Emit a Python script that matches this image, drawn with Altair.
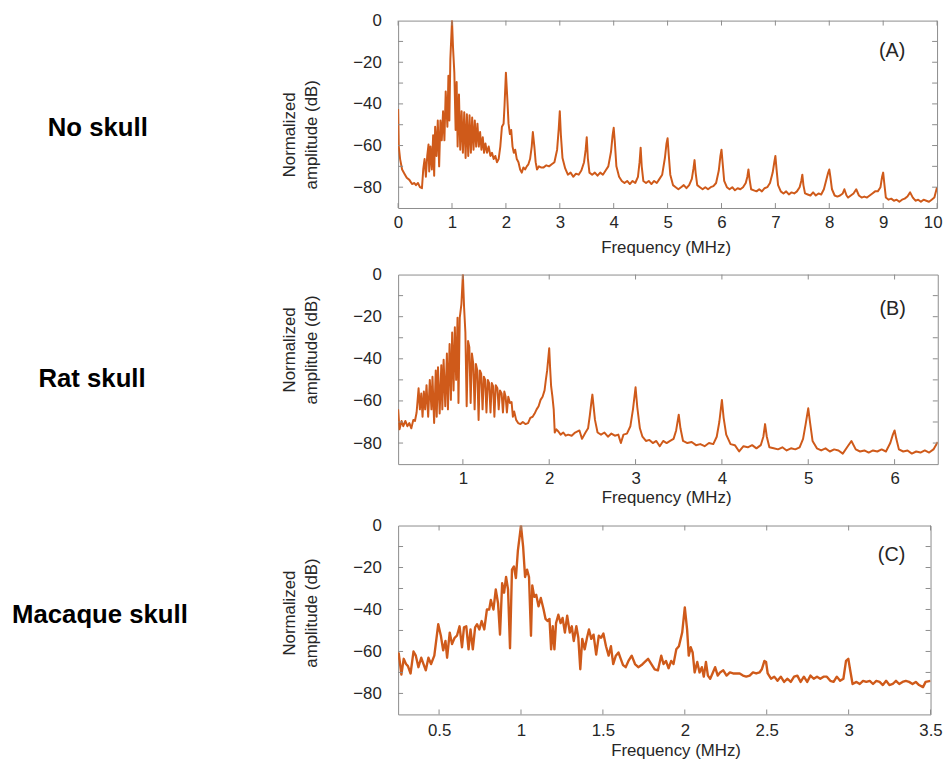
import altair as alt
import pandas as pd

# ---------------- data ----------------
A_freq = [0.0, 0.012, 0.037, 0.074, 0.117, 0.16, 0.209, 0.258, 0.301, 0.331, 0.368, 0.405, 0.442,
          0.466, 0.491, 0.515, 0.54, 0.564, 0.577, 0.601, 0.626, 0.65, 0.669, 0.687, 0.712, 0.736,
          0.761, 0.785, 0.81, 0.834, 0.859, 0.883, 0.914, 0.933, 0.951, 0.969, 1.0, 1.018, 1.043,
          1.067, 1.086, 1.104, 1.129, 1.153, 1.178, 1.202, 1.227, 1.252, 1.276, 1.301, 1.325, 1.35,
          1.374, 1.399, 1.423, 1.448, 1.472, 1.497, 1.521, 1.546, 1.571, 1.595, 1.62, 1.65, 1.681,
          1.712, 1.742, 1.773, 1.804, 1.834, 1.865, 1.896, 1.926, 1.957, 1.975, 2.0, 2.025, 2.049,
          2.074, 2.098, 2.123, 2.147, 2.172, 2.202, 2.233, 2.264, 2.294, 2.325, 2.356, 2.387, 2.417,
          2.448, 2.479, 2.5, 2.528, 2.552, 2.577, 2.613, 2.65,
          2.7, 2.75, 2.8, 2.85, 2.9, 2.95, 2.98, 3.0, 3.02, 3.05, 3.1, 3.15, 3.2, 3.25, 3.3, 3.35,
          3.4, 3.45, 3.48, 3.5, 3.52, 3.55, 3.6, 3.65, 3.7, 3.75, 3.8, 3.85, 3.9, 3.95, 3.98, 4.0,
          4.02, 4.05, 4.1, 4.15, 4.2, 4.25, 4.3, 4.35, 4.4, 4.45, 4.48, 4.5, 4.52, 4.55, 4.6, 4.65,
          4.7, 4.75, 4.8, 4.85, 4.9, 4.95, 4.98, 5.0, 5.02, 5.05, 5.1, 5.15, 5.2, 5.25, 5.3, 5.35,
          5.4, 5.45, 5.48, 5.5, 5.52, 5.55, 5.6, 5.65, 5.7, 5.75, 5.8, 5.85, 5.9, 5.95, 5.98, 6.0,
          6.02, 6.05, 6.1, 6.15, 6.2, 6.25, 6.3, 6.35, 6.4, 6.45, 6.48, 6.5, 6.52, 6.55, 6.6, 6.65,
          6.7, 6.75, 6.8, 6.85, 6.9, 6.95, 6.98, 7.0, 7.02, 7.05, 7.1, 7.15, 7.2, 7.25, 7.3, 7.35,
          7.4, 7.45, 7.48, 7.5, 7.52, 7.55, 7.6, 7.65, 7.7, 7.75, 7.8, 7.85, 7.9, 7.95, 7.98, 8.0,
          8.02, 8.05, 8.1, 8.15, 8.2, 8.25, 8.28, 8.32, 8.35, 8.4, 8.45, 8.5, 8.55, 8.6, 8.65, 8.7,
          8.75, 8.8, 8.85, 8.9, 8.95, 8.98, 9.0, 9.02, 9.05, 9.1, 9.15, 9.2, 9.25, 9.3, 9.35, 9.4,
          9.45, 9.5, 9.55, 9.6, 9.65, 9.7, 9.75, 9.8, 9.85, 9.9, 9.95, 9.98, 10.0]
A_amp = [-42.5, -60.5, -66.5, -71.5, -73.5, -75.5, -76.5, -78.5, -78, -79, -78, -80, -80.5,
         -71.5, -66.5, -75, -65, -59.5, -72.5, -60.5, -71.5, -55, -74.5, -51, -65, -48,
         -70, -48, -57.5, -43.5, -57.5, -34, -51, -26.5, -48, -18.5, 0, -12.5, -25,
         -52.5, -29.5, -60.5, -35.5, -62, -43.5, -63.5, -44, -66, -45, -65, -45.5, -63.5,
         -46.5, -62, -48, -60.5, -49.5, -60.5, -53.5, -62, -56, -63.5, -59, -63.5, -60.5,
         -65, -63.5, -66.5, -65, -68, -66.5, -60.5, -51, -49.5, -40.5, -25, -37, -49.5,
         -54.5, -52.5, -60.5, -63.5, -62, -66.5, -68, -71.5, -73, -70.5, -71.5, -70, -69,
         -66.5, -60.5, -53.5, -60.5, -68, -71.5, -70, -70.5,
         -70.5, -69.5, -70, -69, -68, -62, -52, -43.5, -55, -66, -71, -74, -73, -75, -73.5, -74,
         -72, -68, -62, -56, -66, -73, -74, -73, -74.5, -73, -74, -72, -70, -63, -55, -51.5,
         -58, -70, -75, -77, -78, -77, -78.5, -77, -78, -75, -68, -61, -70, -77, -78, -77,
         -78.5, -77, -78, -76, -74, -66, -59, -56.5, -64, -74, -79, -80, -81, -80, -79, -80.5,
         -79, -76, -71, -67, -73, -79, -80, -81, -80, -81, -80, -79.5, -78, -72, -65, -62,
         -68, -77, -80, -81, -80, -81.5, -80.5, -81, -80, -78, -75, -71.5, -76, -81, -81.5, -82,
         -81, -82, -80.5, -80, -78, -73, -68, -65, -71, -79, -82, -83, -82, -83.5, -82.5, -83,
         -82, -80, -77, -74, -79, -83, -83.5, -84, -82.5, -84, -83, -83.5, -81, -76, -73, -71.5,
         -75, -81, -84, -84.5, -84, -83, -81, -84, -85, -84, -83, -81, -84, -85, -84.5, -85,
         -84, -83, -82, -82, -80, -75, -73, -78, -85, -86, -85.5, -86.5, -86, -87, -86, -85.5,
         -84.5, -82.5, -85, -86.5, -86, -87, -86, -86.5, -87, -86, -85, -82, -80]

B_freq = [0.25, 0.266, 0.29, 0.31, 0.334, 0.357, 0.38, 0.403, 0.426, 0.445, 0.464, 0.487, 0.502,
          0.518, 0.533, 0.548, 0.563, 0.579, 0.598, 0.617, 0.636, 0.648, 0.667, 0.686, 0.697,
          0.712, 0.731, 0.75, 0.762, 0.777, 0.796, 0.815, 0.827, 0.846, 0.861, 0.876, 0.892,
          0.907, 0.922, 0.938, 0.949, 0.964, 0.983, 1.0, 1.014, 1.029, 1.044, 1.06, 1.075, 1.09,
          1.105, 1.121, 1.136, 1.151, 1.167, 1.182, 1.197, 1.212, 1.228, 1.243, 1.258, 1.273,
          1.289, 1.304, 1.32, 1.335, 1.35, 1.365, 1.381, 1.4, 1.415, 1.43, 1.449, 1.464, 1.48,
          1.495, 1.51, 1.526, 1.545, 1.564, 1.579, 1.594, 1.617, 1.64, 1.667, 1.694, 1.724, 1.755,
          1.781, 1.808, 1.831, 1.854, 1.877, 1.9, 1.923, 1.946, 1.961, 1.976, 1.991, 2.0, 2.01,
          2.022, 2.037, 2.052, 2.064, 2.083, 2.106, 2.132, 2.163, 2.19, 2.22, 2.26,
          2.3, 2.35, 2.38, 2.42, 2.45, 2.47, 2.49, 2.5, 2.51, 2.53, 2.56, 2.6, 2.64, 2.68, 2.72,
          2.76, 2.8, 2.83, 2.86, 2.9, 2.94, 2.97, 3.0, 3.02, 3.05, 3.08, 3.12, 3.16, 3.2, 3.24,
          3.28, 3.32, 3.36, 3.4, 3.44, 3.47, 3.5, 3.52, 3.55, 3.6, 3.65, 3.7, 3.75, 3.8, 3.85,
          3.9, 3.94, 3.97, 4.0, 4.02, 4.05, 4.1, 4.15, 4.2, 4.25, 4.3, 4.35, 4.4, 4.45, 4.48, 4.5,
          4.52, 4.55, 4.6, 4.65, 4.7, 4.75, 4.8, 4.85, 4.9, 4.94, 4.97, 5.0, 5.02, 5.05, 5.1,
          5.15, 5.2, 5.25, 5.3, 5.35, 5.4, 5.45, 5.5, 5.55, 5.6, 5.65, 5.7, 5.75, 5.8, 5.85, 5.9,
          5.95, 5.98, 6.0, 6.02, 6.05, 6.1, 6.15, 6.2, 6.25, 6.3, 6.35, 6.4, 6.45, 6.5]
B_amp = [-64, -73.5, -69.5, -72, -69.5, -72, -70.5, -73, -69, -69.5, -65.5, -54, -64,
         -56.5, -67.5, -55.5, -64, -52.5, -67.5, -50, -64, -48.5, -70.5, -45.5, -67.5,
         -44, -66, -43, -64, -40.5, -62.5, -37.5, -64, -33, -59.5, -27.5, -55,
         -25, -50, -20.5, -61, -20.5, -14, 0, -15.5, -27.5, -62.5, -31.5, -34.5, -61,
         -37.5, -42.5, -64, -42.5, -45.5, -69, -45.5, -47, -64, -48.5, -50, -65.5,
         -50, -51.5, -65.5, -51.5, -53, -67.5, -52.5, -54, -64, -55, -56.5, -65.5, -55.5,
         -58, -65.5, -58, -61, -60.5, -67.5, -65, -69, -70.5, -71, -70, -71, -70.5,
         -68, -67.5, -66, -64, -62.5, -59.5, -58, -55, -50, -45.5, -39, -35, -44,
         -53, -58, -64, -75, -73.5, -74.5, -76, -75, -76.5, -76, -76.5,
         -75, -74, -78, -75, -73, -67, -60, -57, -61, -69, -75, -76, -75, -77, -75.5,
         -76.5, -76, -80, -76, -75.5, -72, -64, -53.5, -63, -73, -77, -79, -78.5, -80, -79,
         -81.5, -79, -80, -79, -78, -74, -66.5, -73, -79, -80, -79.5, -81, -80.5, -81.5, -80,
         -80.5, -77, -70, -59.5, -68, -76, -80.5, -81, -84, -81.5, -82, -81, -82.5, -81, -77, -71,
         -77, -82, -82.5, -83, -82, -83.5, -82.5, -83, -82, -78, -71, -63.5, -70, -79, -82.5,
         -83.5, -82.5, -84, -83, -83.5, -85, -82, -79, -83, -84, -83.5, -84.5, -83.5, -84, -83, -84,
         -80, -76, -74, -78, -83, -84, -83.5, -85, -84, -84.5, -83.5, -84.5, -83, -79.5]

C_freq = [0.25, 0.254, 0.27, 0.284, 0.298, 0.31, 0.326, 0.344, 0.358, 0.374, 0.391, 0.405, 0.419,
          0.435, 0.451, 0.471, 0.495, 0.511, 0.525, 0.539, 0.549, 0.565, 0.579, 0.595, 0.609,
          0.625, 0.64, 0.652, 0.666, 0.68, 0.692, 0.706, 0.72, 0.732, 0.746, 0.76, 0.776, 0.792,
          0.806, 0.816, 0.832, 0.846, 0.86, 0.872, 0.885, 0.897, 0.909, 0.921, 0.933, 0.945,
          0.957, 0.969, 0.981, 1.0, 1.013, 1.025, 1.037, 1.049, 1.061, 1.069, 1.081, 1.093,
          1.107, 1.121, 1.138, 1.15, 1.162, 1.174, 1.184, 1.194, 1.204, 1.214, 1.228, 1.242,
          1.254, 1.268, 1.282, 1.298, 1.31, 1.322, 1.338, 1.35, 1.362, 1.374, 1.389, 1.403,
          1.415, 1.429, 1.443, 1.459, 1.475, 1.489, 1.503, 1.519, 1.535, 1.549, 1.563, 1.579,
          1.595, 1.609, 1.623, 1.639, 1.656, 1.676, 1.696, 1.716, 1.736, 1.756, 1.776, 1.796,
          1.816, 1.836, 1.856, 1.87, 1.885, 1.901, 1.917, 1.931, 1.948, 1.964, 1.984, 2.0,
          2.014, 2.024, 2.036, 2.048, 2.06, 2.076, 2.09, 2.104, 2.116, 2.129, 2.141, 2.155,
          2.169, 2.185, 2.201, 2.215, 2.235, 2.255, 2.275, 2.295, 2.315, 2.335, 2.355, 2.375,
          2.396, 2.416, 2.436, 2.456, 2.47, 2.486, 2.496, 2.506, 2.526, 2.546, 2.566, 2.586,
          2.606, 2.627, 2.647, 2.667, 2.687, 2.707, 2.727, 2.747, 2.767, 2.787, 2.807, 2.827,
          2.847, 2.867, 2.888, 2.908, 2.928, 2.948, 2.968, 2.984, 2.998, 3.012, 3.024, 3.048,
          3.068, 3.088, 3.108, 3.129, 3.149, 3.169, 3.189, 3.209, 3.229, 3.249, 3.269, 3.289,
          3.309, 3.329, 3.349, 3.369, 3.39, 3.41, 3.43, 3.454, 3.47, 3.5]
C_amp = [-64, -61, -71, -63.5, -66, -67, -70.5, -60, -62, -67.5, -63, -66, -69,
         -63, -66, -62, -47, -52.5, -59.5, -55, -63, -51, -56.5, -53.5, -52.5,
         -48, -58, -48.5, -48, -59, -49.5, -59, -48.5, -47, -49.5, -45.5, -49.5, -40,
         -40, -35.5, -40, -30.5, -37, -52, -27.5, -32, -24.5, -30.5, -58.5, -21,
         -19.5, -25, -12, 0, -10, -24.5, -21, -24.5, -52.5, -28.5, -34, -33,
         -38.5, -34.5, -40, -44.5, -45.5, -44.5, -59, -48, -59, -46.5, -42.5, -46.5,
         -44, -51, -43, -51, -48, -55, -48, -53.5, -68.5, -54, -59, -53.5,
         -49.5, -54, -52, -61.5, -52.5, -53.5, -51.5, -57.5, -62, -57.5, -66, -62,
         -60.5, -63.5, -66.5, -67.5, -64.5, -62, -66, -67.5, -66.5, -65, -63.5, -66,
         -68.5, -69, -62, -66, -64.5, -68, -64.5, -66, -59, -57.5, -51, -39,
         -49.5, -62, -58, -60.5, -70, -65, -70, -67.5, -72, -65, -71.5, -73,
         -70.5, -67.5, -71.5, -70, -69, -71.5, -70, -70.5, -70.5, -70.5, -71.5, -72,
         -71.5, -70, -70.5, -70, -68.5, -64.5, -65, -70.5, -73, -72, -74, -72,
         -74.5, -73, -74.5, -72, -71.5, -74.5, -72, -74.5, -71.5, -73, -72, -73,
         -72, -72, -74, -74.5, -72, -74, -73, -64.5, -63.5, -70, -75.5, -74.5,
         -75.5, -74, -74.5, -74, -75.5, -74, -74.5, -76, -74, -76, -75.5, -74,
         -75.5, -74.5, -74, -74.5, -75.5, -74.5, -76, -77, -74.5, -74]

A_xticks = [0, 1, 2, 3, 4, 5, 6, 7, 8, 9, 10]
B_xticks = [1, 2, 3, 4, 5, 6]
C_xticks = [0.5, 1, 1.5, 2, 2.5, 3, 3.5]
Y_LABELS = [-80, -60, -40, -20, 0]
Y_TICKS = [-80, -70, -60, -50, -40, -30, -20, -10]
Y_TITLE = ["Normalized", "amplitude (dB)"]
X_TITLE = "Frequency (MHz)"

# ---------------- style ----------------
LINE = "#CF5A1A"
FRAME = "#8C8C8C"
TXT = "#262626"
FONT = "Liberation Sans"
NAME_SIZE = 26
GHOST_X = -301.5


def panel(freq, amp, xdom, xvals, width, height, name, name_x, name_y, tag, tag_x, tag_y,
          label_pad, title_pad, title_x, ytitle_y, sw, flush, flush_off):
    df = pd.DataFrame({"f": freq, "a": amp})
    xs = alt.Scale(domain=xdom, nice=False, zero=False)
    ys = alt.Scale(domain=[-90, 0], nice=False, zero=False)
    x_axis = alt.Axis(values=xvals, format="~r", title=X_TITLE, labelPadding=label_pad,
                      titlePadding=title_pad, titleX=title_x, ticks=False, domain=False,
                      grid=False, labelFlush=flush, labelFlushOffset=flush_off)
    y_axis = alt.Axis(values=Y_LABELS, title=Y_TITLE, titleX=-110, titleY=ytitle_y,
                      titleAngle=270, titleAlign="center", titleBaseline="middle",
                      titleLineHeight=22.5, labelPadding=17, ticks=False, domain=False,
                      grid=False)

    line = alt.Chart(df).mark_line(color=LINE, strokeWidth=sw, clip=True,
                                   strokeJoin="round").encode(
        x=alt.X("f:Q", scale=xs, axis=x_axis),
        y=alt.Y("a:Q", scale=ys, axis=y_axis),
    )
    xt = pd.DataFrame({"f": xvals})
    yt = pd.DataFrame({"a": Y_TICKS})
    top_t = alt.Chart(xt).mark_rule(color=FRAME, strokeWidth=1).encode(
        x=alt.X("f:Q", scale=xs, axis=x_axis), y=alt.value(0), y2=alt.value(5))
    bot_t = alt.Chart(xt).mark_rule(color=FRAME, strokeWidth=1).encode(
        x=alt.X("f:Q", scale=xs, axis=x_axis), y=alt.value(height - 5), y2=alt.value(height))
    left_t = alt.Chart(yt).mark_rule(color=FRAME, strokeWidth=1).encode(
        y=alt.Y("a:Q", scale=ys, axis=y_axis), x=alt.value(0), x2=alt.value(5))
    right_t = alt.Chart(yt).mark_rule(color=FRAME, strokeWidth=1).encode(
        y=alt.Y("a:Q", scale=ys, axis=y_axis), x=alt.value(width - 5), x2=alt.value(width))

    name_txt = alt.Chart(pd.DataFrame({"t": [name]})).mark_text(
        font=FONT, fontWeight="bold", fontSize=NAME_SIZE, color="black", align="center",
        baseline="middle").encode(text="t:N", x=alt.value(name_x), y=alt.value(name_y))
    ghost = alt.Chart(pd.DataFrame({"t": ["Macaque skull"]})).mark_text(
        font=FONT, fontWeight="bold", fontSize=NAME_SIZE, opacity=0, align="center",
        baseline="middle").encode(text="t:N", x=alt.value(GHOST_X), y=alt.value(height / 2))
    tag_txt = alt.Chart(pd.DataFrame({"t": [tag]})).mark_text(
        font=FONT, fontSize=20, color=TXT, align="center", baseline="middle").encode(
        text="t:N", x=alt.value(tag_x), y=alt.value(tag_y))

    return alt.layer(line, top_t, bot_t, left_t, right_t, ghost, name_txt, tag_txt).properties(
        width=width, height=height)


A_TOP = 17.5
pA = panel(A_freq, A_amp, [0, 10], A_xticks, 545, 189.5, "No skull", 96.3 - 400, 125.7 - A_TOP,
           "(A)", 499.5, 48.3 - A_TOP, 6.5, 9.5, 270.5, 132.5 - A_TOP, 2.0, True, 5)
pB = panel(B_freq, B_amp, [0.25, 6.5], B_xticks, 545.7, 191.7, "Rat skull", 90.5 - 400,
           379.3 - 273.3, "(B)", 500, 35, 6.7, 3.3, 271, 349 - 273.3, 2.0, True, 0)
pC = panel(C_freq, C_amp, [0.25, 3.5], C_xticks, 538.4, 191, "Macaque skull", GHOST_X,
           616 - 525, "(C)", 499, 30, 8, 5, 280.5, 613 - 525, 2.4, False, 0)

chart = alt.vconcat(pA, pB, pC, spacing=8.8).properties(
    padding={"left": 3.5, "top": -1.5, "right": 0, "bottom": 0}
).configure_axis(
    labelFont=FONT, titleFont=FONT, labelFontSize=17, titleFontSize=17,
    labelColor=TXT, titleColor=TXT, titleFontWeight="normal"
).configure_view(stroke=FRAME, strokeWidth=1)

chart.save("out.html", embed_options={"renderer": "svg", "actions": False})
